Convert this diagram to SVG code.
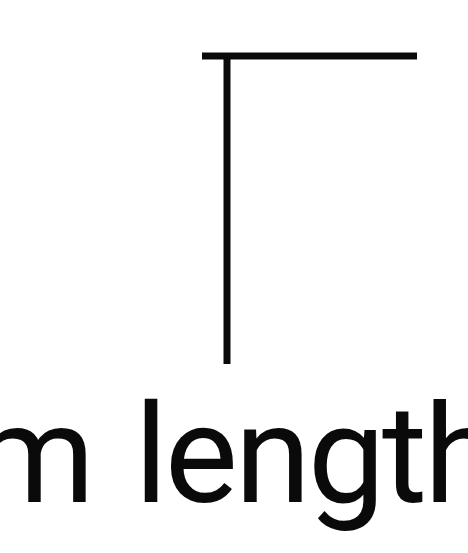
<svg xmlns="http://www.w3.org/2000/svg" width="468" height="553" viewBox="0 0 468 553">
<style>
.ln{stroke:#0a0a0a;stroke-width:7;fill:none}
.lbl{font-family:Roboto,"Open Sans",sans-serif;font-size:138px;fill:#0a0a0a;letter-spacing:-3.2px;word-spacing:11.5px}
</style>
<rect width="468" height="553" fill="#ffffff"/>
<g id="connectors">
<line class="ln" x1="202" y1="56" x2="417" y2="56"/>
<line class="ln" x1="227" y1="56" x2="227" y2="364"/>
</g>
<g id="label">
<text class="lbl" x="-26" y="502">m length</text>
</g>
</svg>
